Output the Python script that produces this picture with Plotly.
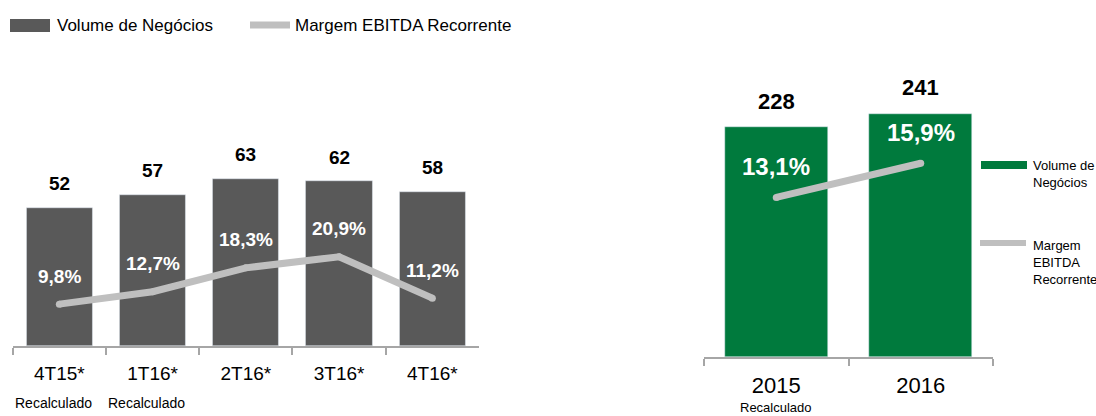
import plotly.graph_objects as go

# Quarterly figures (left panel)
quarters = ["4T15*", "1T16*", "2T16*", "3T16*", "4T16*"]
quarter_volume = [52, 57, 63, 62, 58]
quarter_margin = [9.8, 12.7, 18.3, 20.9, 11.2]
quarter_notes = ["Recalculado", "Recalculado", "", "", ""]

# Annual figures (right panel)
years = ["2015", "2016"]
year_volume = [228, 241]
year_margin = [13.1, 15.9]
year_notes = ["Recalculado", ""]

W, H = 1096, 416
GREY_BAR = "#595959"
GREY_LINE = "#BFBFBF"
GREEN = "#007A3D"
AXIS = "#A6A6A6"
FONT = "Liberation Sans Narrow, Arial Narrow, Liberation Sans, Arial, sans-serif"


def px(x):
    return x / W


def py(y):
    return 1 - y / H


def pct(v):
    return f"{v:.1f}".replace(".", ",") + "%"


fig = go.Figure()
fig.add_trace(go.Bar(x=quarters, y=quarter_volume, width=0.71, marker_color=GREY_BAR,
                     xaxis="x", yaxis="y", hoverinfo="skip"))
# markers on the line give it round ends and joints
fig.add_trace(go.Scatter(x=quarters, y=quarter_margin, mode="lines+markers",
                         line=dict(color=GREY_LINE, width=7),
                         marker=dict(color=GREY_LINE, size=7),
                         xaxis="x", yaxis="y2", hoverinfo="skip"))
fig.add_trace(go.Bar(x=years, y=year_volume, width=0.71, marker_color=GREEN,
                     xaxis="x2", yaxis="y3", hoverinfo="skip"))
fig.add_trace(go.Scatter(x=years, y=year_margin, mode="lines+markers",
                         line=dict(color=GREY_LINE, width=7),
                         marker=dict(color=GREY_LINE, size=7),
                         xaxis="x2", yaxis="y4", hoverinfo="skip"))

annotations = []
# Value labels, left panel (category index used as x position)
for i, (v, m, note) in enumerate(zip(quarter_volume, quarter_margin, quarter_notes)):
    annotations.append(dict(x=i, y=v, xref="x", yref="y", text=f"<b>{v}</b>", showarrow=False,
                            yanchor="middle", yshift=24, font=dict(size=19, color="black")))
    annotations.append(dict(x=i, y=m, xref="x", yref="y2", text=f"<b>{pct(m)}</b>", showarrow=False,
                            yanchor="middle", yshift=28, font=dict(size=19, color="white")))
    if note:
        annotations.append(dict(x=i, y=py(403), xref="x", yref="paper", text=note, showarrow=False,
                                yanchor="middle", xshift=-6, font=dict(size=14, color="black")))

# Value labels, right panel
for i, (v, m, note) in enumerate(zip(year_volume, year_margin, year_notes)):
    annotations.append(dict(x=i, y=v, xref="x2", yref="y3", text=f"<b>{v}</b>", showarrow=False,
                            yanchor="middle", yshift=26, font=dict(size=22, color="black")))
    annotations.append(dict(x=i, y=m, xref="x2", yref="y4", text=f"<b>{pct(m)}</b>", showarrow=False,
                            yanchor="middle", yshift=31, font=dict(size=24, color="white")))
    if note:
        annotations.append(dict(x=i, y=py(416), xref="x2", yref="paper", text=note, showarrow=False,
                                yanchor="bottom", borderpad=0, font=dict(size=13, color="black")))

# Legend texts
annotations += [
    dict(x=px(55), y=py(25), xref="paper", yref="paper", xanchor="left", yanchor="middle",
         text="Volume de Negócios", showarrow=False, font=dict(size=17, color="black")),
    dict(x=px(293), y=py(25), xref="paper", yref="paper", xanchor="left", yanchor="middle",
         text="Margem EBITDA Recorrente", showarrow=False, font=dict(size=17, color="black")),
    dict(x=px(1031), y=py(156), xref="paper", yref="paper", xanchor="left", yanchor="top", align="left",
         text="Volume de<br>Negócios", showarrow=False, font=dict(size=13, color="black")),
    dict(x=px(1031), y=py(236), xref="paper", yref="paper", xanchor="left", yanchor="top", align="left",
         text="Margem<br>EBITDA<br>Recorrente", showarrow=False, font=dict(size=13, color="black")),
]

shapes = [
    dict(type="rect", xref="paper", yref="paper", x0=px(10), x1=px(50), y0=py(32), y1=py(19),
         fillcolor=GREY_BAR, line_width=0),
    dict(type="line", xref="paper", yref="paper", x0=px(250), x1=px(290), y0=py(25), y1=py(25),
         line=dict(color=GREY_LINE, width=7)),
    dict(type="rect", xref="paper", yref="paper", x0=px(981), x1=px(1027), y0=py(169), y1=py(161),
         fillcolor=GREEN, line_width=0),
    dict(type="line", xref="paper", yref="paper", x0=px(980), x1=px(1026), y0=py(243), y1=py(243),
         line=dict(color=GREY_LINE, width=6)),
]

xcommon = dict(type="category", showgrid=False, zeroline=False, showline=True, linecolor=AXIS,
               linewidth=2, ticks="outside", tickson="boundaries", tickcolor=AXIS, tickwidth=2,
               ticklen=7, fixedrange=True)
ycommon = dict(visible=False, showgrid=False, zeroline=False, fixedrange=True)

fig.update_layout(
    width=W, height=H,
    margin=dict(l=0, r=0, t=0, b=0),
    paper_bgcolor="white", plot_bgcolor="white",
    font=dict(family=FONT, color="black"),
    showlegend=False,
    bargap=0,
    xaxis=dict(**xcommon, domain=[px(12.7), px(479)], range=[-0.5, 4.5], anchor="y",
               tickfont=dict(size=19), ticklabelstandoff=9),
    yaxis=dict(**ycommon, domain=[py(346), 1], range=[0, 130.3]),
    yaxis2=dict(**ycommon, overlaying="y", range=[0, 81]),
    xaxis2=dict(**xcommon, domain=[px(704), px(993)], range=[-0.5, 1.5], anchor="y3",
                tickfont=dict(size=22), ticklabelstandoff=8),
    yaxis3=dict(**ycommon, domain=[py(357), 1], range=[0, 354]),
    yaxis4=dict(**ycommon, overlaying="y3", range=[0, 29.3]),
    annotations=annotations,
    shapes=shapes,
)

fig.write_html("out.html", config={"displayModeBar": False},
               post_script="document.body.style.margin = '0';")
